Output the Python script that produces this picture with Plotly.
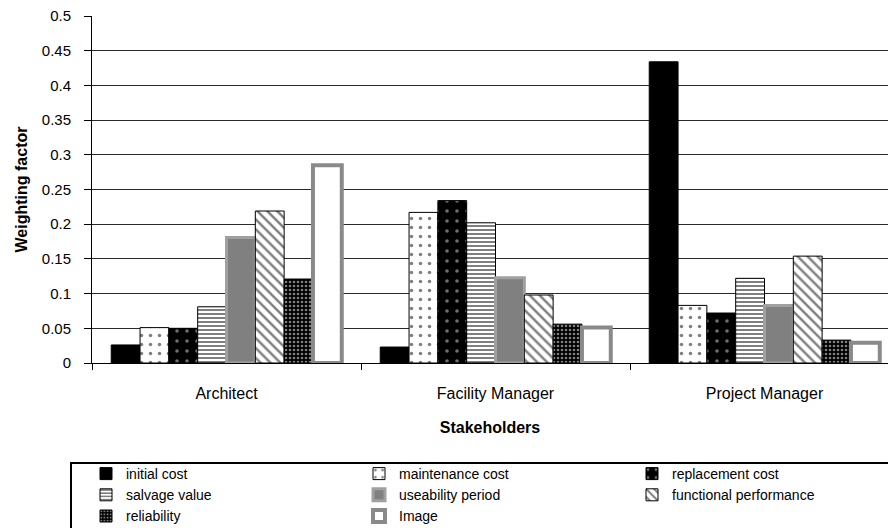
import plotly.graph_objects as go

categories = ["Architect", "Facility Manager", "Project Manager"]

initial_cost = [0.026, 0.023, 0.434]
maintenance_cost = [0.051, 0.217, 0.083]
replacement_cost = [0.050, 0.234, 0.072]
salvage_value = [0.081, 0.202, 0.122]
useability_period = [0.181, 0.123, 0.083]
functional_performance = [0.219, 0.098, 0.154]
reliability = [0.121, 0.056, 0.033]
image = [0.285, 0.051, 0.029]

series_names = ["initial cost", "maintenance cost", "replacement cost", "salvage value",
                "useability period", "functional performance", "reliability", "Image"]
series_values = [initial_cost, maintenance_cost, replacement_cost, salvage_value,
                 useability_period, functional_performance, reliability, image]

styles = [
    dict(color="black", pattern=dict(shape=""), line=dict(color="black", width=1)),
    dict(color="white", pattern=dict(shape=".", fgcolor="black", bgcolor="white", size=9, solidity=0.12),
         line=dict(color="black", width=1)),
    dict(color="black", pattern=dict(shape=".", fgcolor="#dddddd", bgcolor="black", size=10, solidity=0.1),
         line=dict(color="black", width=1)),
    dict(color="white", pattern=dict(shape="-", fgcolor="black", bgcolor="white", size=4, solidity=0.5),
         line=dict(color="black", width=1)),
    dict(color="#808080", pattern=dict(shape=""), line=dict(color="#a0a0a0", width=3)),
    dict(color="white", pattern=dict(shape="\\", fgcolor="black", bgcolor="white", size=7, solidity=0.35),
         line=dict(color="black", width=1)),
    dict(color="black", pattern=dict(shape=".", fgcolor="white", bgcolor="black", size=4, solidity=0.35),
         line=dict(color="black", width=1)),
    dict(color="white", pattern=dict(shape=""), line=dict(color="#8a8a8a", width=4)),
]

fig = go.Figure()
for name, vals, st in zip(series_names, series_values, styles):
    fig.add_trace(go.Bar(name=name, x=categories, y=vals, marker=st))

FONT = "Liberation Sans, Arial, sans-serif"
L, R, T, B = 92, 0, 16, 165
W, H = 888, 528
pw = W - L - R
ph = H - T - B

fig.update_layout(
    width=W, height=H,
    margin=dict(l=L, r=R, t=T, b=B, pad=0, autoexpand=False),
    paper_bgcolor="white", plot_bgcolor="white",
    barmode="group", bargap=0.143, bargroupgap=0,
    font=dict(family=FONT, size=14, color="black"),
    showlegend=True,
    legend=dict(
        orientation="h",
        x=(86 - L) / pw, xanchor="left", y=(363 - 458) / ph, yanchor="top",
        font=dict(family=FONT, size=14, color="black"),
        entrywidth=228, entrywidthmode="pixels",
        bgcolor="rgba(0,0,0,0)", borderwidth=0,
        traceorder="normal", itemclick=False,
    ),
    xaxis=dict(
        range=[-0.5, -0.5 + pw / 269.0],
        showline=True, linecolor="black", linewidth=1,
        ticks="outside", tickson="boundaries", ticklen=6, tickcolor="black",
        tickfont=dict(family=FONT, size=16, color="black"),
        ticklabelstandoff=16,
        showgrid=False, zeroline=False,
        title=dict(text="<b>Stakeholders</b>", font=dict(family=FONT, size=16, color="black"),
                   standoff=20),
        automargin=False,
    ),
    yaxis=dict(
        range=[0, 0.5], dtick=0.05, tick0=0,
        showline=True, linecolor="black", linewidth=1,
        ticks="outside", ticklen=7, tickcolor="black",
        tickfont=dict(family=FONT, size=15, color="black"),
        ticklabelstandoff=10,
        showgrid=True, gridcolor="#2a2a2a", gridwidth=1.3,
        zeroline=False,
        title=dict(text="<b>Weighting factor</b>", font=dict(family=FONT, size=16, color="black"),
                   standoff=10),
        automargin=False,
    ),
    shapes=[
        dict(type="rect", xref="paper", yref="paper",
             x0=(71 - L) / pw, x1=1.05, y0=(363 - 463) / ph, y1=(363 - 560) / ph,
             line=dict(color="black", width=2), fillcolor="rgba(0,0,0,0)", layer="above"),
    ],
)

fig.write_html("out.html", config={"displayModeBar": False},
               post_script="document.body.style.margin='0';document.body.style.overflow='hidden';")
